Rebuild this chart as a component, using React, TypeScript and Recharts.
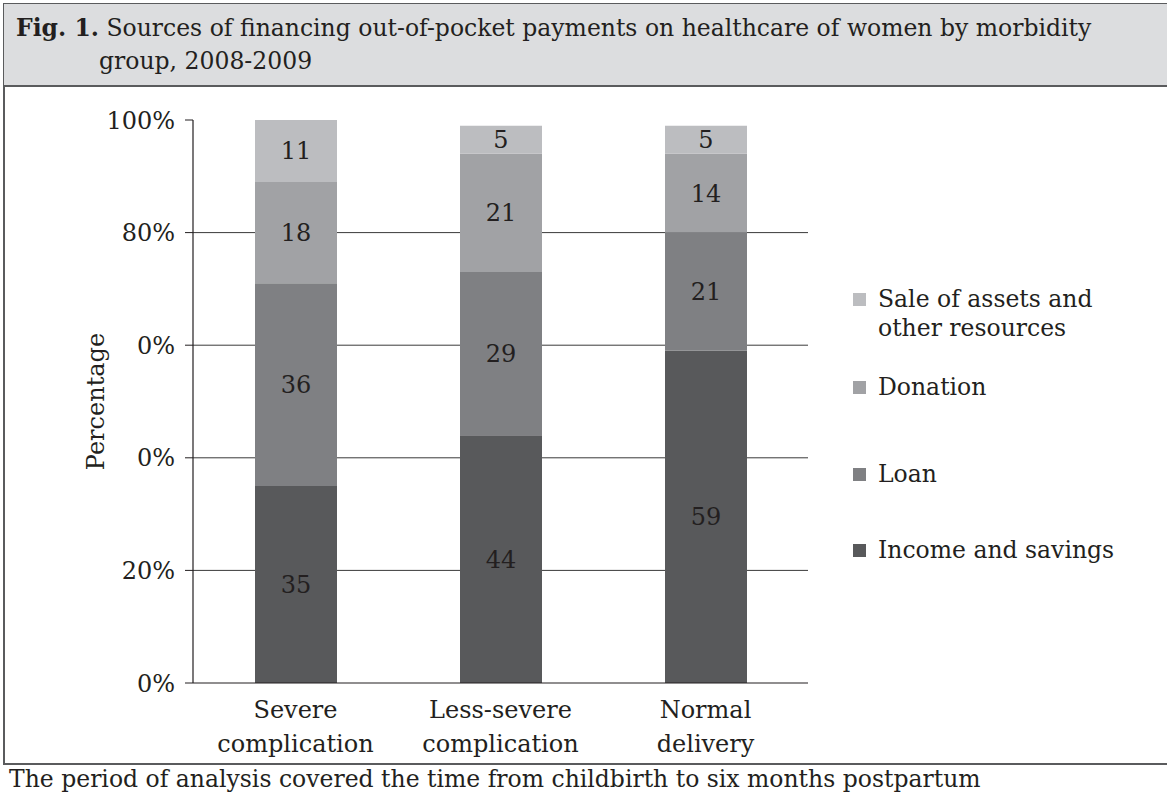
import React from "react";
import { BarChart, Bar, XAxis, YAxis, CartesianGrid, Legend, LabelList, Label } from "recharts";

const groups = ["Severe complication", "Less-severe complication", "Normal delivery"];
const groupLines = [["Severe", "complication"], ["Less-severe", "complication"], ["Normal", "delivery"]];
const incomeSavings = [35, 44, 59];
const loan = [36, 29, 21];
const donation = [18, 21, 14];
const saleOfAssets = [11, 5, 5];
const yTicks = [0, 20, 40, 60, 80, 100];
const yTickLabels = ["0%", "20%", "0%", "0%", "80%", "100%"];

const FONT = "'DejaVu Serif', serif";
const INK = "#231f20";
const FRAME = "#5a5b5d";

const series = [
  { key: "income", name: "Income and savings", color: "#58595b" },
  { key: "loan", name: "Loan", color: "#7f8083" },
  { key: "donation", name: "Donation", color: "#a1a2a5" },
  { key: "sale", name: "Sale of assets and other resources", color: "#bcbdc0" },
];

const data = groups.map((g, i) => ({
  group: g,
  income: incomeSavings[i],
  loan: loan[i],
  donation: donation[i],
  sale: saleOfAssets[i],
}));

function GroupTick({ x, y, index }: any) {
  const lines = groupLines[index] ?? [];
  return (
    <text x={x} y={y} textAnchor="middle" fill={INK} fontSize={24} fontFamily={FONT}>
      {lines.map((l, i) => (
        <tspan key={i} x={x} dy={i === 0 ? 35 : 34}>{l}</tspan>
      ))}
    </text>
  );
}

// gap above each legend entry, top to bottom
const legendGaps = [0, 30, 58, 47];

function SideLegend() {
  const items = [...series].reverse();
  return (
    <div style={{ fontFamily: FONT, fontSize: 23.5, color: INK, lineHeight: "29px" }}>
      {items.map((s, i) => (
        <div key={s.key} style={{ display: "flex", alignItems: "flex-start", marginTop: legendGaps[i] }}>
          <span style={{ width: 13, height: 13, background: s.color, marginTop: 8, marginRight: 12, flex: "none" }} />
          <span style={{ width: 268 }}>{s.name}</span>
        </div>
      ))}
    </div>
  );
}

export default function App() {
  return (
    <div style={{ position: "absolute", left: 0, top: 0, width: 1167, height: 796, background: "#fff", overflow: "hidden", fontFamily: FONT, color: INK }}>
      <div style={{
        position: "absolute", left: 3, top: 3, width: 1164, height: 84, boxSizing: "border-box",
        background: "#dcdddf", borderTop: `1.5px solid ${FRAME}`, borderLeft: `1.5px solid ${FRAME}`, borderBottom: `2px solid ${FRAME}`,
        fontSize: 23.5, lineHeight: "33px", paddingLeft: 95, paddingTop: 8, textIndent: -83,
      }}>
        <b>Fig. 1.</b> Sources of financing out-of-pocket payments on healthcare of women by morbidity group, 2008-2009
      </div>
      <div style={{ position: "absolute", left: 3, top: 87, width: 1.5, height: 677, background: FRAME }} />
      <div style={{ position: "absolute", left: 3, top: 763, width: 1164, height: 2, background: FRAME }} />
      <div style={{ position: "absolute", left: 9, top: 766, fontSize: 23.5, lineHeight: "26px", whiteSpace: "nowrap" }}>
        The period of analysis covered the time from childbirth to six months postpartum
      </div>

      <div style={{ position: "absolute", left: 0, top: 86 }}>
        <BarChart width={1167} height={677} data={data} margin={{ top: 34, right: 359, bottom: 0, left: 103 }} style={{ fontFamily: FONT }}>
          <CartesianGrid vertical={false} horizontalValues={[20, 40, 60, 80]} stroke="#3a3a3a" strokeWidth={1} />
          <XAxis
            dataKey="group"
            axisLine={{ stroke: INK, strokeWidth: 1.2 }}
            tickLine={false}
            tickSize={0}
            tickMargin={0}
            height={80}
            interval={0}
            tick={<GroupTick />}
          />
          <YAxis
            width={90}
            domain={[0, 100]}
            ticks={yTicks}
            interval={0}
            axisLine={{ stroke: INK, strokeWidth: 1.2 }}
            tickLine={{ stroke: INK }}
            tickSize={8}
            tickMargin={10}
            tick={{ fill: INK, fontSize: 24, fontFamily: FONT }}
            tickFormatter={(v: number) => yTickLabels[yTicks.indexOf(v)] ?? ""}
          >
            <Label value="Percentage" angle={-90} position="left" offset={8} style={{ textAnchor: "middle", fill: INK, fontSize: 24, fontFamily: FONT }} />
          </YAxis>
          <Legend
            layout="horizontal"
            verticalAlign="middle"
            align="center"
            wrapperStyle={{ left: 853, top: 199, width: 300 }}
            content={<SideLegend />}
          />
          {series.map((s) => (
            <Bar key={s.key} dataKey={s.key} name={s.name} stackId="a" fill={s.color} barSize={82} isAnimationActive={false}>
              <LabelList dataKey={s.key} position="center" fill={INK} fontSize={24} fontFamily={FONT} />
            </Bar>
          ))}
        </BarChart>
      </div>
    </div>
  );
}
